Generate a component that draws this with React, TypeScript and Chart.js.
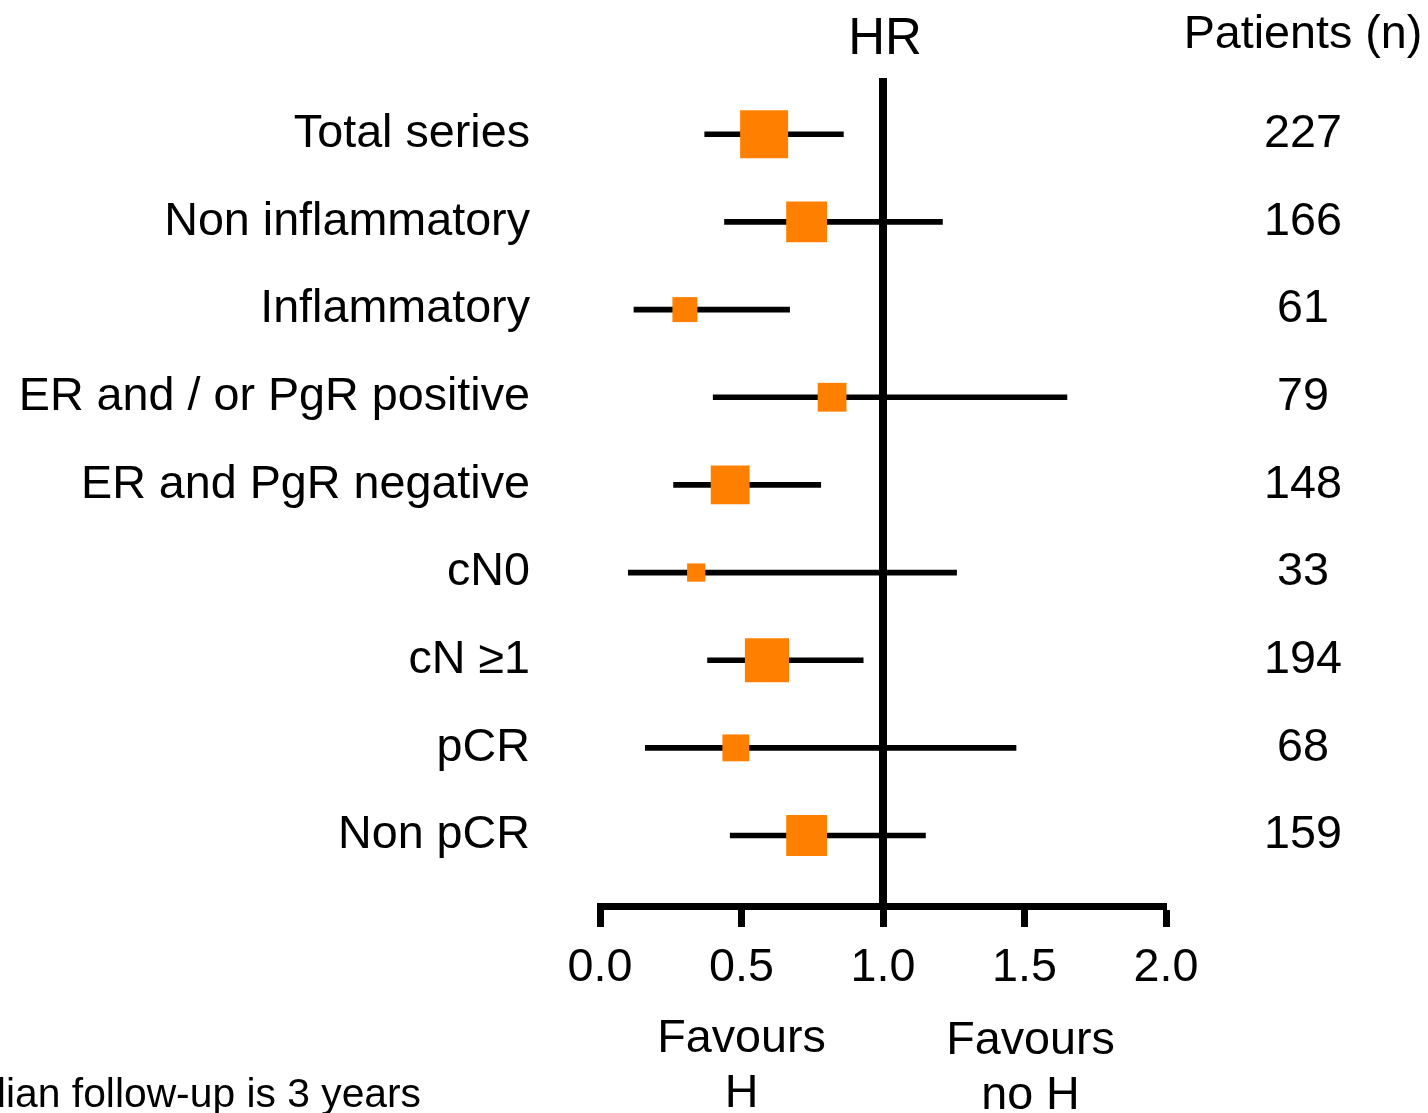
import { useEffect, useRef } from "react";
import { Chart, registerables } from "chart.js";

Chart.register(...registerables);

// Subgroups of the forest plot, top to bottom
const subgroups = [
  "Total series",
  "Non inflammatory",
  "Inflammatory",
  "ER and / or PgR positive",
  "ER and PgR negative",
  "cN0",
  "cN \u22651",
  "pCR",
  "Non pCR",
];
// Hazard ratio point estimates and 95% CI bounds
const hazardRatio = [0.58, 0.73, 0.3, 0.82, 0.46, 0.34, 0.59, 0.48, 0.73];
const ciLower = [0.37, 0.44, 0.12, 0.4, 0.26, 0.1, 0.38, 0.16, 0.46];
const ciUpper = [0.86, 1.21, 0.67, 1.65, 0.78, 1.26, 0.93, 1.47, 1.15];
// Relative weight of each subgroup (Total series = 100), drives box size
const boxWeight = [100, 85, 52, 60, 81, 38, 92, 56, 85];
// Number of patients per subgroup
const patients = [227, 166, 61, 79, 148, 33, 194, 68, 159];
// HR axis ticks
const hrTicks = [0, 0.5, 1, 1.5, 2];

const FONT = '"Liberation Sans", Arial, Helvetica, sans-serif';
const TEXT_SIZE = 46.7;
const BOX_PX_PER_WEIGHT = 0.48;
const ORANGE = "#FF8000";

// Vertical no-effect line at HR = 1
const referenceLine = {
  id: "referenceLine",
  beforeDatasetsDraw(chart: any) {
    const { ctx, chartArea, scales } = chart;
    const px = scales.x.getPixelForValue(1);
    ctx.save();
    ctx.strokeStyle = "#000";
    ctx.lineWidth = 8;
    ctx.beginPath();
    ctx.moveTo(px, chartArea.top);
    ctx.lineTo(px, chartArea.bottom);
    ctx.stroke();
    ctx.restore();
  },
};

// Column headers, patient counts, direction captions and footnote
const forestText = {
  id: "forestText",
  afterDraw(chart: any) {
    const { ctx, scales } = chart;
    const x = scales.x;
    const y = scales.y;
    ctx.save();
    ctx.fillStyle = "#000";
    ctx.textAlign = "center";
    ctx.textBaseline = "alphabetic";
    ctx.font = `51px ${FONT}`;
    ctx.fillText("HR", x.getPixelForValue(1) + 2, 54);
    ctx.font = `${TEXT_SIZE}px ${FONT}`;
    ctx.fillText("Patients (n)", 1303, 48);

    ctx.textBaseline = "middle";
    patients.forEach((n, i) => {
      ctx.fillText(String(n), 1303, y.getPixelForValue(i));
    });

    ctx.textBaseline = "alphabetic";
    const favH = x.getPixelForValue(0.5);
    const favNoH = x.getPixelForValue(1.5) + 6;
    ctx.fillText("Favours", favH, 1052);
    ctx.fillText("H", favH, 1107);
    ctx.fillText("Favours", favNoH, 1054);
    ctx.fillText("no H", favNoH, 1109);

    ctx.font = `40.8px ${FONT}`;
    ctx.textAlign = "right";
    ctx.fillText("Median follow-up is 3 years", 421, 1107);
    ctx.restore();
  },
};

export default function App() {
  const canvasRef = useRef<HTMLCanvasElement>(null);

  useEffect(() => {
    const canvas = canvasRef.current;
    if (!canvas) return;
    const tickFont = { family: FONT, size: TEXT_SIZE };

    const chart = new Chart(canvas, {
      type: "scatter",
      data: {
        datasets: [
          {
            type: "scatter",
            data: hazardRatio.map((v, i) => ({ x: v, y: i })),
            showLine: false,
            pointStyle: "rect",
            pointRadius: boxWeight.map((w) => (w * BOX_PX_PER_WEIGHT) / Math.SQRT2),
            pointBackgroundColor: ORANGE,
            pointBorderWidth: 0,
            order: 1,
          } as any,
          {
            type: "bar",
            indexAxis: "y",
            data: subgroups.map((_, i) => ({ y: i, x: [ciLower[i], ciUpper[i]] })),
            backgroundColor: "#000",
            borderWidth: 0,
            barThickness: 5,
            grouped: false,
            order: 2,
          } as any,
        ],
      },
      options: {
        responsive: false,
        animation: false,
        layout: { padding: { top: 78, right: 262, left: 0, bottom: 0 } },
        plugins: {
          legend: { display: false },
          tooltip: { enabled: false },
        },
        scales: {
          x: {
            type: "linear",
            position: "bottom",
            offset: false,
            min: 0,
            max: 2,
            afterBuildTicks: (s: any) => {
              s.ticks = hrTicks.map((v) => ({ value: v }));
            },
            afterFit: (s: any) => {
              s.height = 207;
            },
            ticks: {
              color: "#000",
              font: tickFont,
              padding: 13,
              maxRotation: 0,
              autoSkip: false,
              callback: (v: any) => Number(v).toFixed(1),
            },
            grid: {
              offset: false,
              drawOnChartArea: false,
              drawTicks: true,
              tickLength: 21,
              tickWidth: 7,
              tickColor: "#000",
            },
            border: { display: true, width: 7, color: "#000" },
          },
          y: {
            type: "linear",
            position: "left",
            offset: false,
            reverse: true,
            min: -0.642,
            max: 8.804,
            afterBuildTicks: (s: any) => {
              s.ticks = subgroups.map((_, i) => ({ value: i }));
            },
            afterFit: (s: any) => {
              s.width = 600;
              s.paddingTop = 0;
              s.paddingBottom = 0;
            },
            ticks: {
              color: "#000",
              font: tickFont,
              padding: 70,
              autoSkip: false,
              callback: (v: any) => subgroups[Math.round(Number(v))],
            },
            grid: { display: false, drawTicks: false, offset: false },
            border: { display: false },
          },
        },
      } as any,
      plugins: [referenceLine, forestText],
    });

    return () => chart.destroy();
  }, []);

  return (
    <canvas
      ref={canvasRef}
      width={1428}
      height={1113}
      style={{ position: "fixed", left: 0, top: 0, background: "#fff" }}
    />
  );
}
